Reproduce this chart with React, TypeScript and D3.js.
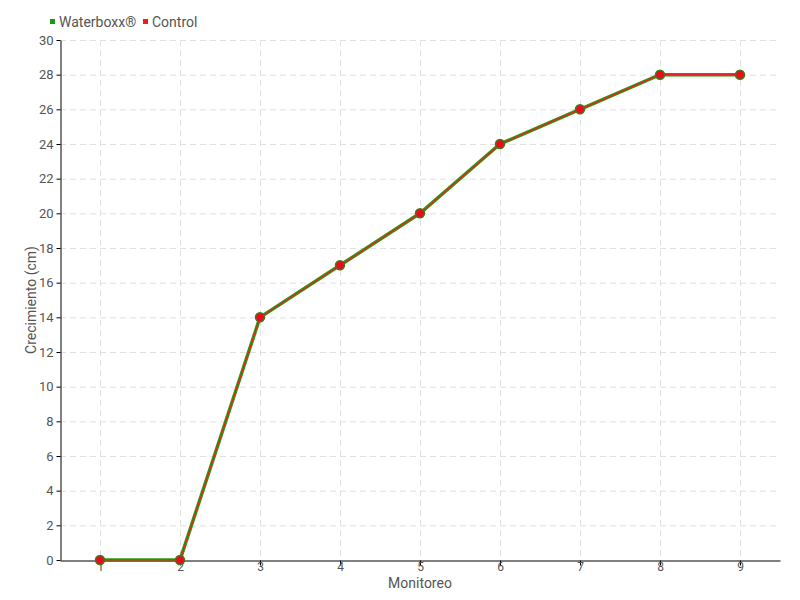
import React, { useEffect, useRef } from 'react';
import * as d3 from 'd3';

const monitoreos = ['1', '2', '3', '4', '5', '6', '7', '8', '9'];
const waterboxx = [0, 0, 14, 17, 20, 24, 26, 28, 28];
const control = [0, 0, 14, 17, 20, 24, 26, 28, 28];
const yTicks = [0, 2, 4, 6, 8, 10, 12, 14, 16, 18, 20, 22, 24, 26, 28, 30];

const FONT = "Roboto, 'DejaVu Sans', sans-serif";

const App = () => {
  const svgRef = useRef<SVGSVGElement>(null);
  const width = 800;
  const height = 600;
  const margin = { top: 40, right: 20, bottom: 40, left: 60 };

  useEffect(() => {
    const svg = d3.select(svgRef.current);
    svg.selectAll('*').remove();

    const x = d3.scalePoint<string>()
      .domain(monitoreos)
      .range([margin.left, width - margin.right])
      .padding(0.5);

    const y = d3.scaleLinear()
      .domain([0, 30])
      .range([height - margin.bottom, margin.top]);

    const txt = (sel: any, size = 13) =>
      sel.style('font-family', FONT)
        .style('font-size', `${size}px`)
        .attr('fill', '#555');

    // grid
    const grid = svg.append('g');
    grid.selectAll('.hgrid')
      .data(yTicks.filter(d => d > 0))
      .enter().append('line')
      .attr('x1', margin.left)
      .attr('x2', width - margin.right)
      .attr('y1', d => y(d) + 0.5)
      .attr('y2', d => y(d) + 0.5)
      .attr('stroke', '#e0e0e0')
      .attr('stroke-dasharray', '6,4');
    grid.selectAll('.vgrid')
      .data(monitoreos)
      .enter().append('line')
      .attr('x1', d => x(d)! + 0.5)
      .attr('x2', d => x(d)! + 0.5)
      .attr('y1', margin.top)
      .attr('y2', height - margin.bottom)
      .attr('stroke', '#e0e0e0')
      .attr('stroke-dasharray', '6,4');

    // axes
    const xAxis = svg.append('g')
      .attr('transform', `translate(0,${height - margin.bottom + 0.5})`)
      .call(d3.axisBottom(x).tickSize(5).tickSizeOuter(0));
    xAxis.select('.domain').attr('stroke', '#000');
    txt(xAxis.selectAll('text').attr('dy', '0.35em').attr('y', 6), 12);

    const yAxis = svg.append('g')
      .attr('transform', `translate(${margin.left + 0.5},0)`)
      .call(d3.axisLeft(y).tickValues(yTicks).tickSize(4).tickSizeOuter(0));
    yAxis.select('.domain').attr('stroke', '#000');
    txt(yAxis.selectAll('text'));

    // line series
    const line = d3.line<number>()
      .x((d, i) => x(monitoreos[i])!)
      .y(d => y(d));

    svg.append('path')
      .datum(waterboxx)
      .attr('d', line)
      .attr('fill', 'none')
      .attr('stroke', '#2a9a10')
      .attr('stroke-width', 3.5);

    svg.append('path')
      .datum(control)
      .attr('d', line)
      .attr('fill', 'none')
      .attr('stroke', '#ee1c25')
      .attr('stroke-width', 1.2);

    svg.selectAll('.pt')
      .data(control)
      .enter().append('circle')
      .attr('cx', (d, i) => x(monitoreos[i])!)
      .attr('cy', d => y(d))
      .attr('r', 4.5)
      .attr('fill', '#ee0a1e')
      .attr('stroke', '#3f7a1a')
      .attr('stroke-width', 1.5);

    // axis titles
    txt(svg.append('text')
      .attr('x', (margin.left + width - margin.right) / 2)
      .attr('y', 588)
      .attr('text-anchor', 'middle'), 14)
      .text('Monitoreo');

    txt(svg.append('text')
      .attr('transform', `translate(36,${(margin.top + height - margin.bottom) / 2}) rotate(-90)`)
      .attr('text-anchor', 'middle'), 14)
      .text('Crecimiento (cm)');

    // legend
    const legendItems = [
      { label: 'Waterboxx®', color: '#1a9a10', x: 50 },
      { label: 'Control', color: '#ee1c25', x: 143 },
    ];
    const legend = svg.append('g');
    legendItems.forEach(item => {
      legend.append('rect')
        .attr('x', item.x)
        .attr('y', 19)
        .attr('width', 5)
        .attr('height', 5)
        .attr('fill', item.color);
      txt(legend.append('text')
        .attr('x', item.x + 9)
        .attr('y', 27), 14)
        .text(item.label);
    });
  }, []);

  return (
    <div style={{ width: '800px', height: '600px', position: 'absolute', left: 0, top: 0 }}>
      <svg ref={svgRef} width={width} height={height} />
    </div>
  );
};

export default App;
